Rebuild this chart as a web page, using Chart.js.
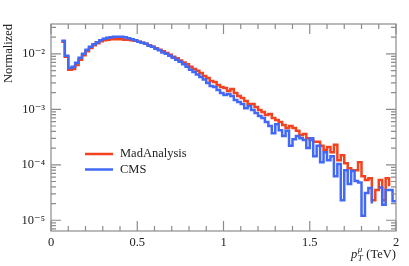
<!DOCTYPE html>
<html>
<head>
<meta charset="utf-8">
<script src="https://cdn.jsdelivr.net/npm/chart.js@4"></script>
<style>
  html, body { margin: 0; padding: 0; background: #fff; }
</style>
</head>
<body>
<canvas id="ptChart" width="409" height="266"></canvas>
<script>
// muon pT, 0.02 TeV bins from 0 to 2 TeV (0 = empty bin)
var binWidth = 0.02;

var madAnalysis = [
    0, 0, 0, 1.65e-2, 8.83e-3, 5.14e-3, 5.35e-3, 6.32e-3, 7.79e-3, 9.4e-3,
    1.11e-2, 1.28e-2, 1.43e-2, 1.55e-2, 1.68e-2, 1.75e-2, 1.79e-2, 1.83e-2, 1.83e-2, 1.83e-2,
    1.83e-2, 1.79e-2, 1.79e-2, 1.75e-2, 1.72e-2, 1.65e-2, 1.58e-2, 1.52e-2, 1.43e-2, 1.34e-2,
    1.26e-2, 1.18e-2, 1.11e-2, 1.04e-2, 9.6e-3, 8.83e-3, 8.3e-3, 7.6e-3, 7.0e-3, 6.46e-3,
    5.82e-3, 5.35e-3, 4.93e-3, 4.53e-3, 4.0e-3, 3.68e-3, 3.25e-3, 3.12e-3, 2.75e-3, 2.53e-3,
    2.43e-3, 2.14e-3, 2.33e-3, 1.97e-3, 1.74e-3, 1.60e-3, 1.41e-3, 1.25e-3, 1.25e-3, 1.10e-3,
    9.7e-4, 8.9e-4, 7.9e-4, 8.2e-4, 7.0e-4, 6.4e-4, 5.9e-4, 5.2e-4, 4.6e-4, 5.0e-4,
    4.6e-4, 4.1e-4, 3.4e-4, 3.6e-4, 3.0e-4, 2.8e-4, 2.6e-4, 2.6e-4, 2.2e-4, 1.84e-4,
    2.1e-4, 1.69e-4, 2.3e-4, 1.21e-4, 1.49e-4, 1.07e-4, 8.7e-5, 8.0e-5, 8.0e-5, 1.11e-4,
    6.2e-5, 5.3e-5, 5.7e-5, 2.3e-5, 3.5e-5, 5.3e-5, 2.3e-5, 5.7e-5, 4.1e-5, 0
];

var cms = [
    0, 0, 0, 1.72e-2, 9.2e-3, 5.58e-3, 5.82e-3, 6.88e-3, 8.47e-3, 1.0e-2,
    1.18e-2, 1.34e-2, 1.49e-2, 1.61e-2, 1.75e-2, 1.87e-2, 1.95e-2, 1.99e-2, 2.03e-2, 2.03e-2,
    2.03e-2, 1.99e-2, 1.91e-2, 1.83e-2, 1.75e-2, 1.65e-2, 1.58e-2, 1.52e-2, 1.40e-2, 1.34e-2,
    1.23e-2, 1.16e-2, 1.06e-2, 1.0e-2, 9.2e-3, 8.47e-3, 7.79e-3, 7.17e-3, 6.46e-3, 5.82e-3,
    5.14e-3, 4.72e-3, 4.26e-3, 3.84e-3, 3.46e-3, 2.99e-3, 2.64e-3, 2.53e-3, 2.23e-3, 1.97e-3,
    1.81e-3, 1.89e-3, 1.74e-3, 1.47e-3, 1.35e-3, 1.25e-3, 1.05e-3, 1.15e-3, 9.7e-4, 8.6e-4,
    7.6e-4, 7.0e-4, 5.9e-4, 5.0e-4, 3.7e-4, 5.4e-4, 4.2e-4, 3.3e-4, 4.1e-4, 2.2e-4,
    2.9e-4, 3.3e-4, 3.0e-4, 2.8e-4, 2.0e-4, 3.0e-4, 1.43e-4, 2.2e-4, 1.11e-4, 1.69e-4,
    1.21e-4, 1.43e-4, 6.2e-5, 1.03e-4, 2.3e-5, 8.0e-5, 4.5e-5, 7.7e-5, 5.1e-5, 4.8e-5,
    1.2e-5, 3.1e-5, 3.8e-5, 2.0e-5, 0, 3.9e-5, 1.9e-5, 3.5e-5, 3.5e-5, 2.2e-5
];

var seriesNames = ['MadAnalysis', 'CMS'];
var seriesColors = ['#f4411e', '#4268f6'];
var xTicks = [0, 0.5, 1, 1.5, 2];
var yDecades = [1e-5, 1e-4, 1e-3, 1e-2];

var serif = "'Liberation Serif', 'DejaVu Serif', serif";
var axisGray = '#8c8c8c';
var sup = { '-': '\u207b', '1': '\u00b9', '2': '\u00b2', '3': '\u00b3', '4': '\u2074', '5': '\u2075', '6': '\u2076' };

// left bin edges + closing edge, for a stepped line
function toSteps(values) {
    var pts = values.map(function(v, i) {
        return { x: i * binWidth, y: v };
    });
    pts.push({ x: values.length * binWidth, y: values[values.length - 1] });
    return pts;
}

var decorPlugin = {
    id: 'decor',
    afterDraw: function(chart) {
        var ctx = chart.ctx;
        var a = chart.chartArea;
        var xs = chart.scales.x;
        var ys = chart.scales.y;
        ctx.save();
        ctx.strokeStyle = axisGray;
        ctx.lineWidth = 1.2;
        ctx.strokeRect(a.left, a.top, a.right - a.left, a.bottom - a.top);

        // x ticks, bottom and top, pointing inward
        ctx.beginPath();
        for (var k = 0; k <= 20; k++) {
            var px = xs.getPixelForValue(k / 10);
            var len = (k % 5 === 0) ? 10 : 5;
            ctx.moveTo(px, a.bottom); ctx.lineTo(px, a.bottom - len);
            ctx.moveTo(px, a.top); ctx.lineTo(px, a.top + len);
        }
        // y ticks, left and right
        for (var e = -6; e <= -2; e++) {
            for (var m = 1; m <= 9; m++) {
                var v = m * Math.pow(10, e);
                if (v < ys.min || v > ys.max) continue;
                var py = ys.getPixelForValue(v);
                var l = (m === 1) ? 10 : 5;
                ctx.moveTo(a.left, py); ctx.lineTo(a.left + l, py);
                ctx.moveTo(a.right, py); ctx.lineTo(a.right - l, py);
            }
        }
        ctx.stroke();

        // legend
        ctx.textAlign = 'left';
        ctx.textBaseline = 'middle';
        ctx.font = '12.5px ' + serif;
        chart.data.datasets.forEach(function(ds, i) {
            var y = a.top + 130 + i * 15.5;
            ctx.strokeStyle = ds.borderColor;
            ctx.lineWidth = 2.5;
            ctx.beginPath();
            ctx.moveTo(a.left + 34, y); ctx.lineTo(a.left + 62, y);
            ctx.stroke();
            ctx.fillStyle = '#222';
            ctx.fillText(ds.label, a.left + 69, y);
        });

        // y title
        ctx.save();
        ctx.translate(9, a.top);
        ctx.rotate(-Math.PI / 2);
        ctx.textAlign = 'right';
        ctx.textBaseline = 'middle';
        ctx.font = '12.5px ' + serif;
        ctx.fillText('Normalized', 0, 0);
        ctx.restore();

        // x title: p_T^mu (TeV)
        var base = 258;
        ctx.textBaseline = 'alphabetic';
        ctx.font = 'italic 12.5px ' + serif;
        var wp = ctx.measureText('p').width;
        ctx.font = 'italic 9px ' + serif;
        var ws = Math.max(ctx.measureText('T').width, ctx.measureText('\u03bc').width);
        ctx.font = '12.5px ' + serif;
        var wu = ctx.measureText(' (TeV)').width;
        var x0 = a.right - (wp + ws + wu + 1);
        ctx.font = 'italic 12.5px ' + serif;
        ctx.fillText('p', x0, base);
        ctx.font = 'italic 9px ' + serif;
        ctx.fillText('T', x0 + wp + 0.5, base + 3);
        ctx.fillText('\u03bc', x0 + wp + 0.5, base - 6);
        ctx.font = '12.5px ' + serif;
        ctx.fillText(' (TeV)', x0 + wp + ws + 1, base);
        ctx.restore();
    }
};

new Chart(document.getElementById('ptChart').getContext('2d'), {
    type: 'line',
    data: {
        datasets: [{
            label: seriesNames[0],
            data: toSteps(madAnalysis),
            borderColor: seriesColors[0],
            borderWidth: 2.5,
            stepped: 'before',
            pointRadius: 0,
            fill: false,
            order: 1,
            clip: { left: 0, top: 0, right: 0, bottom: -1.5 }
        }, {
            label: seriesNames[1],
            data: toSteps(cms),
            borderColor: seriesColors[1],
            borderWidth: 2.5,
            stepped: 'before',
            pointRadius: 0,
            fill: false,
            order: 0,
            clip: { left: 0, top: 0, right: 0, bottom: -1.5 }
        }]
    },
    options: {
        responsive: false,
        animation: false,
        devicePixelRatio: 1,
        layout: { padding: { top: 24, right: 13, left: 0, bottom: 0 } },
        plugins: {
            legend: { display: false },
            tooltip: { enabled: false }
        },
        scales: {
            x: {
                type: 'linear',
                min: 0,
                max: 2,
                grid: { display: false, drawTicks: false },
                border: { display: false },
                afterBuildTicks: function(scale) {
                    scale.ticks = xTicks.map(function(v) { return { value: v }; });
                },
                afterFit: function(scale) { scale.height = 35; },
                ticks: {
                    padding: 4,
                    color: '#222',
                    font: { family: serif, size: 12.5 },
                    callback: function(value) { return String(value); }
                }
            },
            y: {
                type: 'logarithmic',
                min: 6.4e-6,
                max: 3.45e-2,
                grid: { display: false, drawTicks: false },
                border: { display: false },
                afterBuildTicks: function(scale) {
                    scale.ticks = yDecades.map(function(v) { return { value: v }; });
                },
                afterFit: function(scale) { scale.width = 51; },
                ticks: {
                    padding: 6,
                    color: '#222',
                    autoSkip: false,
                    font: { family: serif, size: 12.5 },
                    callback: function(value) {
                        var p = String(Math.round(Math.log10(value)));
                        return '10' + p.split('').map(function(c) { return sup[c]; }).join('');
                    }
                }
            }
        }
    },
    plugins: [decorPlugin]
});
</script>
</body>
</html>
